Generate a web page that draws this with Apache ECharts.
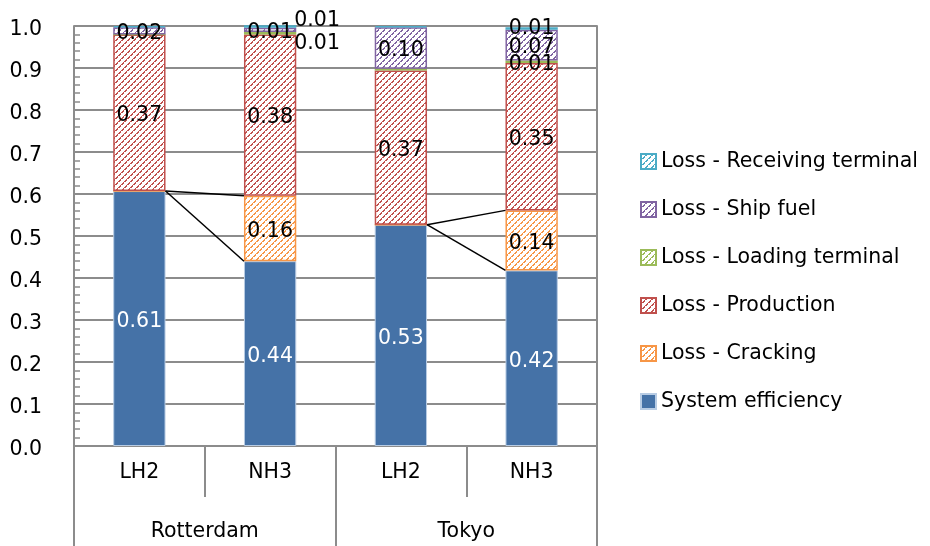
<!DOCTYPE html>
<html><head><meta charset="utf-8">
<script src="https://cdn.jsdelivr.net/npm/echarts@6/dist/echarts.min.js"></script>
<style>html,body{margin:0;padding:0;background:#fff}#c{width:930px;height:546px}</style>
</head><body><div id="c"></div>
<script>
// ---- data ----
const categories = ['LH2', 'NH3', 'LH2', 'NH3'];
const groups = ['Rotterdam', 'Tokyo'];
const systemEfficiency = [0.607, 0.440, 0.527, 0.418];
const lossCracking     = [0, 0.156, 0, 0.143];
const lossProduction   = [0.373, 0.384, 0.367, 0.351];
const lossLoading      = [0, 0.006, 0.004, 0.006];
const lossShipFuel     = [0.017, 0.010, 0.099, 0.073];
const lossReceiving    = [0.003, 0.006, 0.003, 0.006];
const seriesNames = ['System efficiency', 'Loss - Cracking', 'Loss - Production',
  'Loss - Loading terminal', 'Loss - Ship fuel', 'Loss - Receiving terminal'];
// connector lines: from efficiency top of LH2 to NH3 (cracking top & efficiency top)
const connectorPairs = [[0, 1], [2, 3]];

const FONT = 'DejaVu Sans';
const FS = 20.5;
const colors = ['#4572A7', '#F79646', '#C0504D', '#9BBB59', '#8064A2', '#4BACC6'];

function hatch(color) {
  const c = document.createElement('canvas');
  c.width = 6; c.height = 6;
  const g = c.getContext('2d');
  g.fillStyle = '#fff'; g.fillRect(0, 0, 6, 6);
  g.fillStyle = color;
  for (let y = 0; y < 6; y++) for (let x = 0; x < 6; x++) {
    const s = (x + y) % 6;
    if (s === 5) g.fillRect(x, y, 1, 1);
    if (s === 0 && x % 3 !== 1) g.fillRect(x, y, 1, 1);
  }
  return { image: c, repeat: 'repeat' };
}

const valuesList = [systemEfficiency, lossCracking, lossProduction, lossLoading, lossShipFuel, lossReceiving];

const barSeries = valuesList.map((vals, si) => ({
  name: seriesNames[si],
  type: 'bar',
  stack: 'total',
  barWidth: '40%',
  itemStyle: si === 0
    ? { color: colors[0], borderColor: '#b8cce4', borderWidth: 1 }
    : { color: hatch(colors[si]), borderColor: colors[si], borderWidth: 1.5 },
  label: {
    show: true, position: 'inside', offset: [0, 3],
    color: si === 0 ? '#fff' : '#000',
    fontFamily: FONT, fontSize: FS,
    formatter: p => p.value.toFixed(2)
  },
  data: vals.map((v, ci) => {
    const item = { value: v };
    if (v < 0.005) item.label = { show: false };
    else if (ci === 1 && si === 5) item.label = { offset: [47, -6] };
    else if (ci === 1 && si === 3) item.label = { offset: [47, 11] };
    else if (ci === 3 && si === 5) item.label = { offset: [0, 0] };
    return item;
  })
}));

const connectorData = [];
connectorPairs.forEach(([a, b]) => {
  connectorData.push([a, systemEfficiency[a], b, systemEfficiency[b] + lossCracking[b]]);
  connectorData.push([a, systemEfficiency[a], b, systemEfficiency[b]]);
});

const axisGray = '#8c8c8c';
const chart = echarts.init(document.getElementById('c'));
chart.setOption({
  animation: false,
  textStyle: { fontFamily: FONT },
  grid: { left: 74, right: 333, top: 26, bottom: 100 },
  legend: {
    orient: 'vertical', left: 635, top: 146,
    itemWidth: 15, itemHeight: 15, itemGap: 27,
    icon: 'rect',
    textStyle: { fontFamily: FONT, fontSize: FS, color: '#000' },
    data: seriesNames.slice().reverse()
  },
  xAxis: [{
    type: 'category', data: categories, position: 'bottom',
    axisLine: { lineStyle: { color: axisGray, width: 2 } },
    axisTick: { show: true, length: 51, lineStyle: { color: axisGray, width: 2 } },
    axisLabel: { color: '#000', fontSize: FS, fontFamily: FONT, margin: 16 },
    splitLine: { show: false }
  }, {
    type: 'category', data: groups, position: 'bottom',
    axisLine: { lineStyle: { color: axisGray, width: 2 } },
    axisTick: { show: true, length: 100, lineStyle: { color: axisGray, width: 2 } },
    axisLabel: { color: '#000', fontSize: FS, fontFamily: FONT, margin: 75 },
    splitLine: { show: false }
  }],
  yAxis: [{
    type: 'value', min: 0, max: 1, interval: 0.1,
    axisLine: { show: true, lineStyle: { color: axisGray, width: 2 } },
    axisTick: { show: true, inside: true, length: 6, lineStyle: { color: axisGray, width: 1.5 } },
    minorTick: { show: true, splitNumber: 5, length: 6, lineStyle: { color: axisGray, width: 1.5 } },
    splitLine: { show: true, lineStyle: { color: axisGray, width: 2 } },
    axisLabel: { color: '#000', fontSize: FS, fontFamily: FONT, margin: 32,
      formatter: v => '{v|' + v.toFixed(1) + '}',
      rich: { v: { fontSize: FS, fontFamily: FONT, color: '#000', padding: [8, 0, 0, 0] } } }
  }, {
    type: 'value', min: 0, max: 1, position: 'right',
    axisLine: { show: true, lineStyle: { color: axisGray, width: 2 } },
    axisTick: { show: false }, axisLabel: { show: false }, splitLine: { show: false }
  }],
  series: barSeries.concat([{
    type: 'custom', name: 'connectors', silent: true, z: 10,
    xAxisIndex: 0, yAxisIndex: 0,
    encode: { x: 0, y: 1 },
    renderItem: (params, api) => {
      const p0 = api.coord([api.value(0), api.value(1)]);
      const p1 = api.coord([api.value(2), api.value(3)]);
      const half = api.size([1, 0])[0] * 0.4 / 2;
      return { type: 'line', shape: { x1: p0[0] + half, y1: p0[1], x2: p1[0] - half, y2: p1[1] },
        style: { stroke: '#000', lineWidth: 1.5 } };
    },
    data: connectorData
  }])
});
</script></body></html>
